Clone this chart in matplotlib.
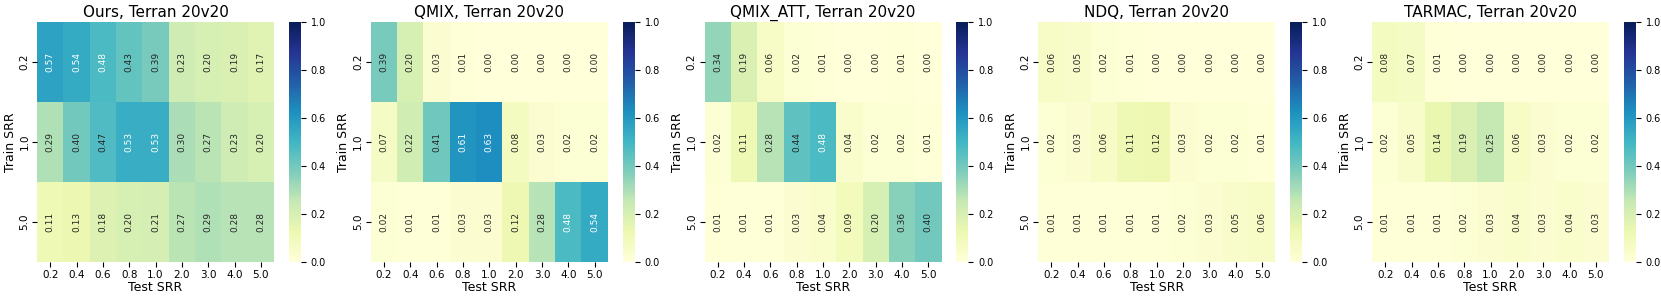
import matplotlib
matplotlib.use('Agg')
import matplotlib.pyplot as plt
import seaborn as sns
import numpy as np

# SRR settings
test_srr = ['0.2', '0.4', '0.6', '0.8', '1.0', '2.0', '3.0', '4.0', '5.0']
train_srr = ['0.2', '1.0', '5.0']

# win rates, rows = train SRR, cols = test SRR
ours = [[0.57, 0.54, 0.48, 0.43, 0.39, 0.23, 0.20, 0.19, 0.17],
        [0.29, 0.40, 0.47, 0.53, 0.53, 0.30, 0.27, 0.23, 0.20],
        [0.11, 0.13, 0.18, 0.20, 0.21, 0.27, 0.29, 0.28, 0.28]]
qmix = [[0.39, 0.20, 0.03, 0.01, 0.00, 0.00, 0.00, 0.00, 0.00],
        [0.07, 0.22, 0.41, 0.61, 0.63, 0.08, 0.03, 0.02, 0.02],
        [0.02, 0.01, 0.01, 0.03, 0.03, 0.12, 0.28, 0.48, 0.54]]
qmix_att = [[0.34, 0.19, 0.06, 0.02, 0.01, 0.00, 0.00, 0.01, 0.00],
            [0.02, 0.11, 0.28, 0.44, 0.48, 0.04, 0.02, 0.02, 0.01],
            [0.01, 0.01, 0.01, 0.03, 0.04, 0.09, 0.20, 0.36, 0.40]]
ndq = [[0.06, 0.05, 0.02, 0.01, 0.00, 0.00, 0.00, 0.00, 0.00],
       [0.02, 0.03, 0.06, 0.11, 0.12, 0.03, 0.02, 0.02, 0.01],
       [0.01, 0.01, 0.01, 0.01, 0.01, 0.02, 0.03, 0.05, 0.06]]
tarmac = [[0.08, 0.07, 0.01, 0.00, 0.00, 0.00, 0.00, 0.00, 0.00],
          [0.02, 0.05, 0.14, 0.19, 0.25, 0.06, 0.03, 0.02, 0.02],
          [0.01, 0.01, 0.01, 0.02, 0.03, 0.04, 0.03, 0.04, 0.03]]

methods = ['Ours', 'QMIX', 'QMIX_ATT', 'NDQ', 'TARMAC']
results = [ours, qmix, qmix_att, ndq, tarmac]

W, H = 1661, 300
fig = plt.figure(figsize=(W / 100, H / 100), dpi=100)

for i, (name, vals) in enumerate(zip(methods, results)):
    left = 37 + i * 333.75
    ax = fig.add_axes([left / W, 38 / H, 237 / W, 240 / H])
    cax = fig.add_axes([(left + 252) / W, 38 / H, 12 / W, 240 / H])
    sns.heatmap(np.array(vals), ax=ax, cbar_ax=cax, cmap='YlGnBu', vmin=0, vmax=1,
                annot=True, fmt='.2f', annot_kws={'rotation': 90, 'fontsize': 6.5},
                xticklabels=test_srr, yticklabels=train_srr)
    ax.set_title(f'{name}, Terran 20v20', fontsize=11, pad=3.5)
    ax.set_xlabel('Test SRR', fontsize=9, labelpad=1)
    ax.set_ylabel('Train SRR', fontsize=9, labelpad=2)
    ax.tick_params(axis='x', labelsize=7.5, rotation=0, pad=2)
    ax.tick_params(axis='y', labelsize=7.5, rotation=90, pad=2)
    cax.tick_params(labelsize=7)
    cax.set_yticks([0, 0.2, 0.4, 0.6, 0.8, 1.0])

fig.savefig('out.png', dpi=100)
